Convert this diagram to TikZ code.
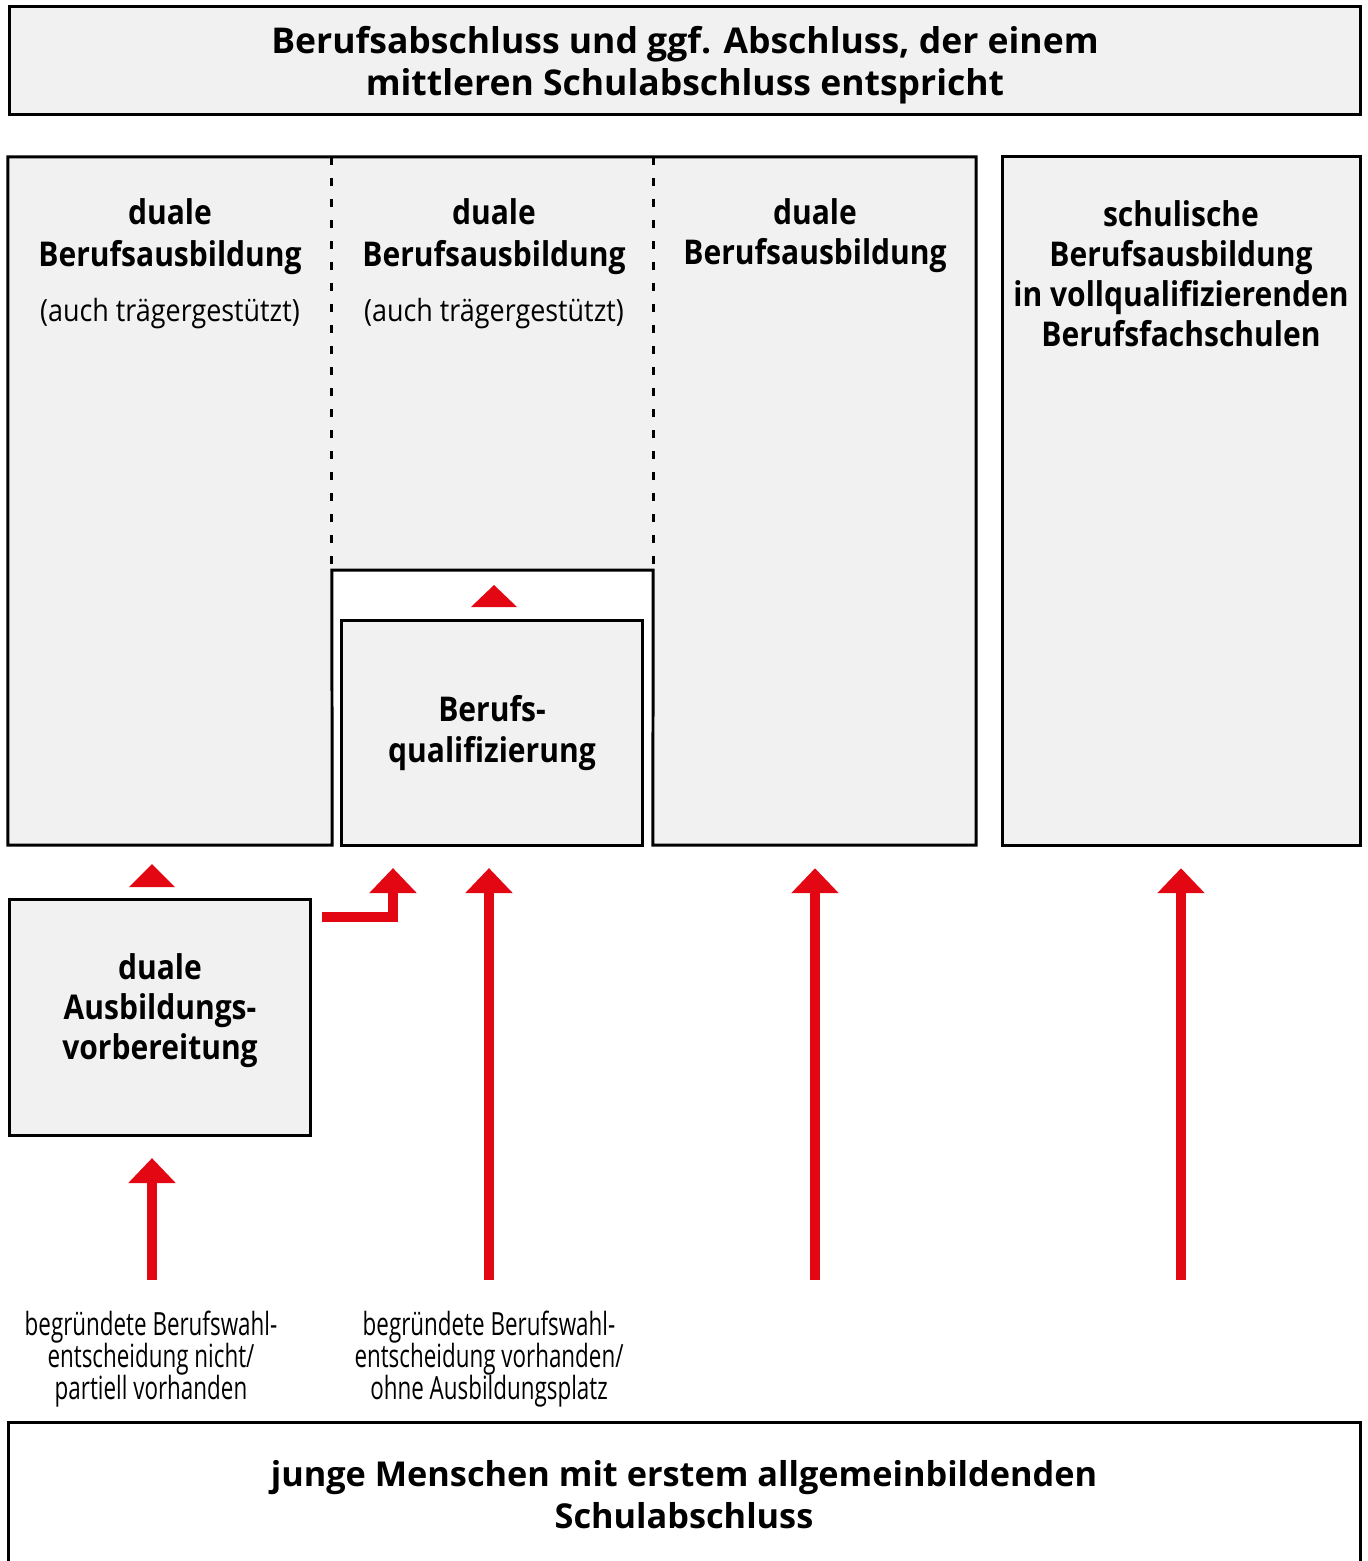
\documentclass[tikz,border=0pt]{standalone}
\usepackage{fontspec}
\setmainfont{Open Sans}[FakeStretch=0.88]
\newfontfamily\widefont{Open Sans}
\newfontfamily\narrowfont{Open Sans}[FakeStretch=0.70]
\usetikzlibrary{arrows.meta,positioning,calc}
\definecolor{boxgrey}{RGB}{241,241,241}
\definecolor{arrowred}{RGB}{227,6,19}

\begin{document}
\begin{tikzpicture}[x=0.01cm, y=-0.01cm,
    frame/.style={draw=black, line width=0.85pt},
    greybox/.style={frame, fill=boxgrey, inner sep=0pt, outer sep=0pt},
    panel/.style={fill=boxgrey, inner sep=0pt, outer sep=0pt},
    head/.style={font=\fontsize{9.7}{11.9}\selectfont\bfseries, align=center},
    title/.style={font=\widefont\fontsize{10.1}{12}\selectfont\bfseries, align=center},
    sub/.style={font=\fontsize{8.7}{10}\selectfont},
    cond/.style={font=\narrowfont\fontsize{9.1}{9.1}\selectfont, align=center},
    redarrow/.style={draw=arrowred, line width=0.1cm,
        -{Triangle[width=0.46cm, length=0.25cm]}, shorten >=0.23cm},
    tri/.style={fill=arrowred}]
        \useasboundingbox (0,0) rectangle (1367,1561);
        % Top
        \node [greybox, minimum width=13.5cm, minimum height=1.07cm] (abschluss) at (685,60.5) {};
        \node [title] (abschlusstext) at (685,65)
            {Berufsabschluss und ggf. Abschluss, der einem\\mittleren Schulabschluss entspricht};
        % Columns
        \node [panel, minimum width=3.24cm, minimum height=6.88cm] (col1) at (170,501) {};
        \node [panel, minimum width=3.21cm, minimum height=4.13cm] (col2) at (492.5,363.5) {};
        \node [panel, minimum width=3.23cm, minimum height=6.88cm] (col3) at (814.5,501) {};
        \draw [frame] (col1.north west) -- (col3.north east) -- (col3.south east)
            -- (col3.south west) -- (col2.south east) -- (col2.south west)
            -- (col1.south east) -- (col1.south west) -- cycle;
        \draw [frame, dash pattern=on 0.08cm off 0.13cm]
            (col2.north west) -- (col2.south west)
            (col2.north east) -- (col2.south east);
        \node [greybox, minimum width=3.57cm, minimum height=6.88cm] (schul) at (1181.5,501) {};
        \node [greybox, head, minimum width=3cm, minimum height=2.24cm] (qual) at (492,733)
            {Berufs-\\qualifizierung};
        \node [greybox, minimum width=3cm, minimum height=2.35cm] (vorb) at (160,1017.5) {};
        \node [head, font=\fontsize{9.7}{11.4}\selectfont\bfseries] (vorbtext) at (160,1011)
            {duale\\Ausbildungs-\\vorbereitung};
        % Column labels
        \node [head] (dual1) at (170,237) {duale\\Berufsausbildung};
        \node [sub] (traeger1) at (170,314) {(auch trägergestützt)};
        \node [head] (dual2) at (494,237) {duale\\Berufsausbildung};
        \node [sub] (traeger2) at (494,314) {(auch trägergestützt)};
        \node [head, font=\fontsize{9.7}{11.4}\selectfont\bfseries] (dual3) at (815,236)
            {duale\\Berufsausbildung};
        \node [head, font=\fontsize{9.7}{11.4}\selectfont\bfseries] (schultext) at (1181,274)
            {schulische\\Berufsausbildung\\in vollqualifizierenden\\Berufsfachschulen};
        % Bottom
        \node [frame, fill=white, minimum width=13.51cm, minimum height=1.8cm] (basis) at (684.5,1513) {};
        \node [title, font=\widefont\fontsize{9.75}{12}\selectfont\bfseries] (junge) at (684,1495)
            {junge Menschen mit erstem allgemeinbildenden\\Schulabschluss};
        \node [cond] (lab1) at (151,1359)
            {begründete Berufswahl-\\entscheidung nicht/\\partiell vorhanden};
        \node [cond] (lab2) at (489,1359)
            {begründete Berufswahl-\\entscheidung vorhanden/\\ohne Ausbildungsplatz};
        % Arrows
        \coordinate (s1) at (152,1280);
        \coordinate (s2) at (489,1280);
        \coordinate (s3) at (815,1280);
        \coordinate (s4) at (1181,1280);
        \coordinate (b0) at (322,917);
        \coordinate (b1) at (393,917);
        \draw [redarrow] (s1) -- (s1 |- vorb.south);
        \draw [redarrow] (s2) -- (s2 |- qual.south);
        \draw [redarrow] (s3) -- (s3 |- col3.south);
        \draw [redarrow] (s4) -- (s4 |- schul.south);
        \draw [redarrow] (b0) -| (b1 |- qual.south);
        % Triangles
        \fill [tri] (129,887) -- (152,864) -- (175,887) -- cycle;
        \fill [tri] (471,607) -- (494,585) -- (517,607) -- cycle;
\end{tikzpicture}
\end{document}
